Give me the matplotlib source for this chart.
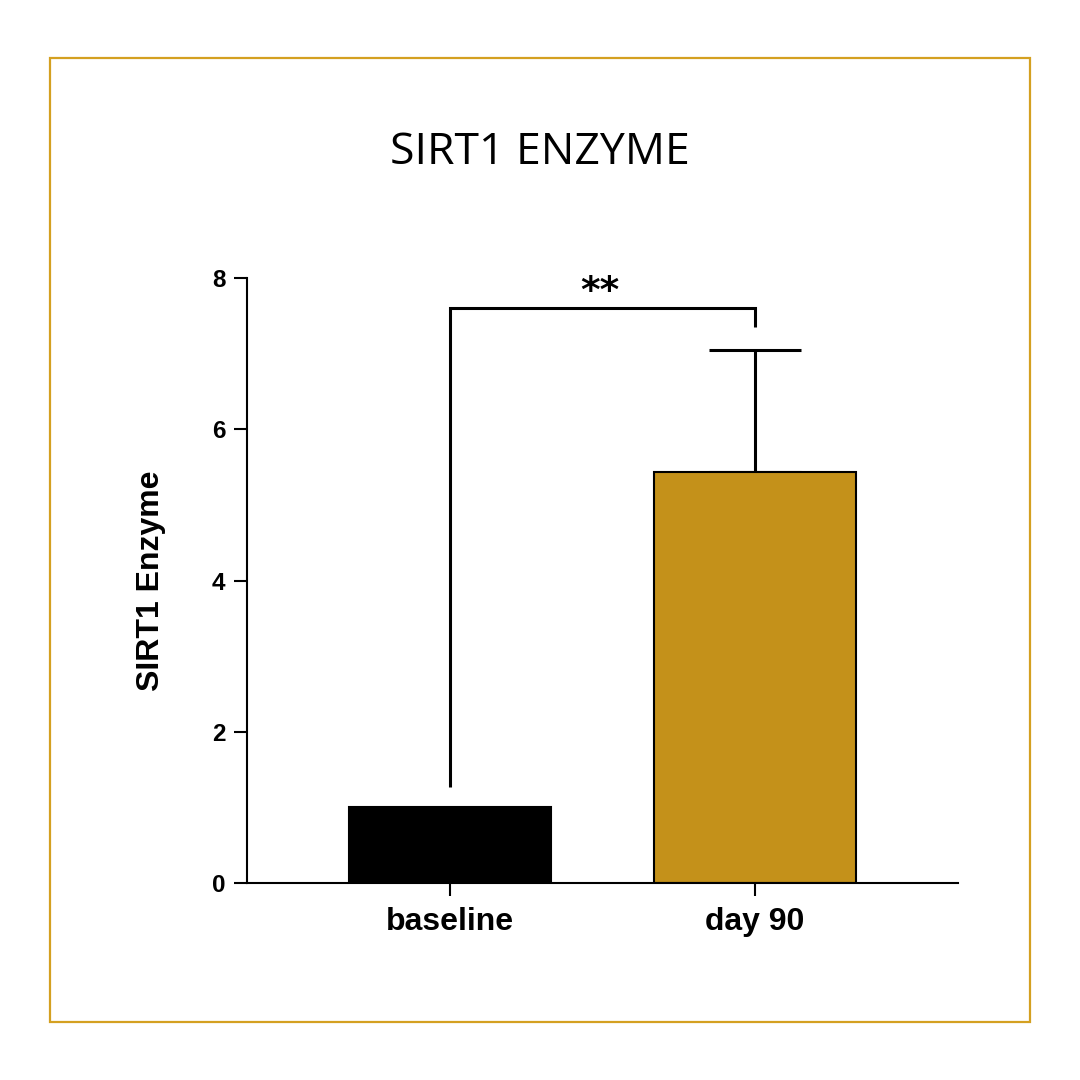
import matplotlib
matplotlib.use("Agg")
import matplotlib.pyplot as plt
from matplotlib.patches import Rectangle

#### data ####
groups = ["baseline", "day 90"]
means = [1.0, 5.43]
err_upper = [0.0, 1.62]
bar_colors = ["#000000", "#C4911A"]
sig_label = "**"
bracket_y = 7.6
bracket_left_bottom = 1.27
bracket_right_bottom = 7.35

#### plot ####
fig = plt.figure(figsize=(10.8, 10.8), dpi=100)
ax = fig.add_axes([247/1080, 1-883/1080, (958-247)/1080, (883-278)/1080])

x = [0, 1]
ax.bar(x, means, width=0.662, color=bar_colors, edgecolor="black", linewidth=1.5, zorder=2)
ax.errorbar(x[1], means[1], yerr=[[0], [err_upper[1]]], fmt="none", ecolor="black",
            elinewidth=2.2, capsize=33, capthick=2.2, zorder=1)

# significance bracket
ax.plot([x[0], x[0], x[1], x[1]],
        [bracket_left_bottom, bracket_y, bracket_y, bracket_right_bottom],
        color="black", lw=2.2, solid_capstyle="butt", solid_joinstyle="miter")
ax.text((x[0] + x[1]) / 2 - 0.01, 7.68, sig_label, ha="center", va="baseline",
        fontsize=27, fontweight="bold", family="DejaVu Sans", clip_on=False)

ax.set_xlim(-0.666, 1.666)
ax.set_ylim(0, 8)
ax.set_yticks([0, 2, 4, 6, 8])
ax.set_xticks(x)
ax.set_xticklabels(groups)
for s in ["top", "right"]:
    ax.spines[s].set_visible(False)
for s in ["left", "bottom"]:
    ax.spines[s].set_linewidth(1.5)

ax.tick_params(axis="y", length=9.5, width=1.5, labelsize=17.5, pad=6)
ax.tick_params(axis="x", length=9, width=1.5, labelsize=23, pad=8)
for lab in ax.get_xticklabels() + ax.get_yticklabels():
    lab.set_fontweight("bold")
    lab.set_family("Liberation Sans")

ax.set_ylabel("SIRT1 Enzyme", fontsize=23, fontweight="bold", family="Liberation Sans", labelpad=33)

fig.text(0.5, 1-153/1080, "SIRT1 ENZYME", ha="center", va="center", fontsize=32,
         fontweight="medium", family="Open Sans")

fig.patches.append(Rectangle((50/1080, 1-1022/1080), 980/1080, 964/1080, transform=fig.transFigure,
                             fill=False, edgecolor="#D4A021", linewidth=1.6))

fig.savefig("out.png", dpi=100)
